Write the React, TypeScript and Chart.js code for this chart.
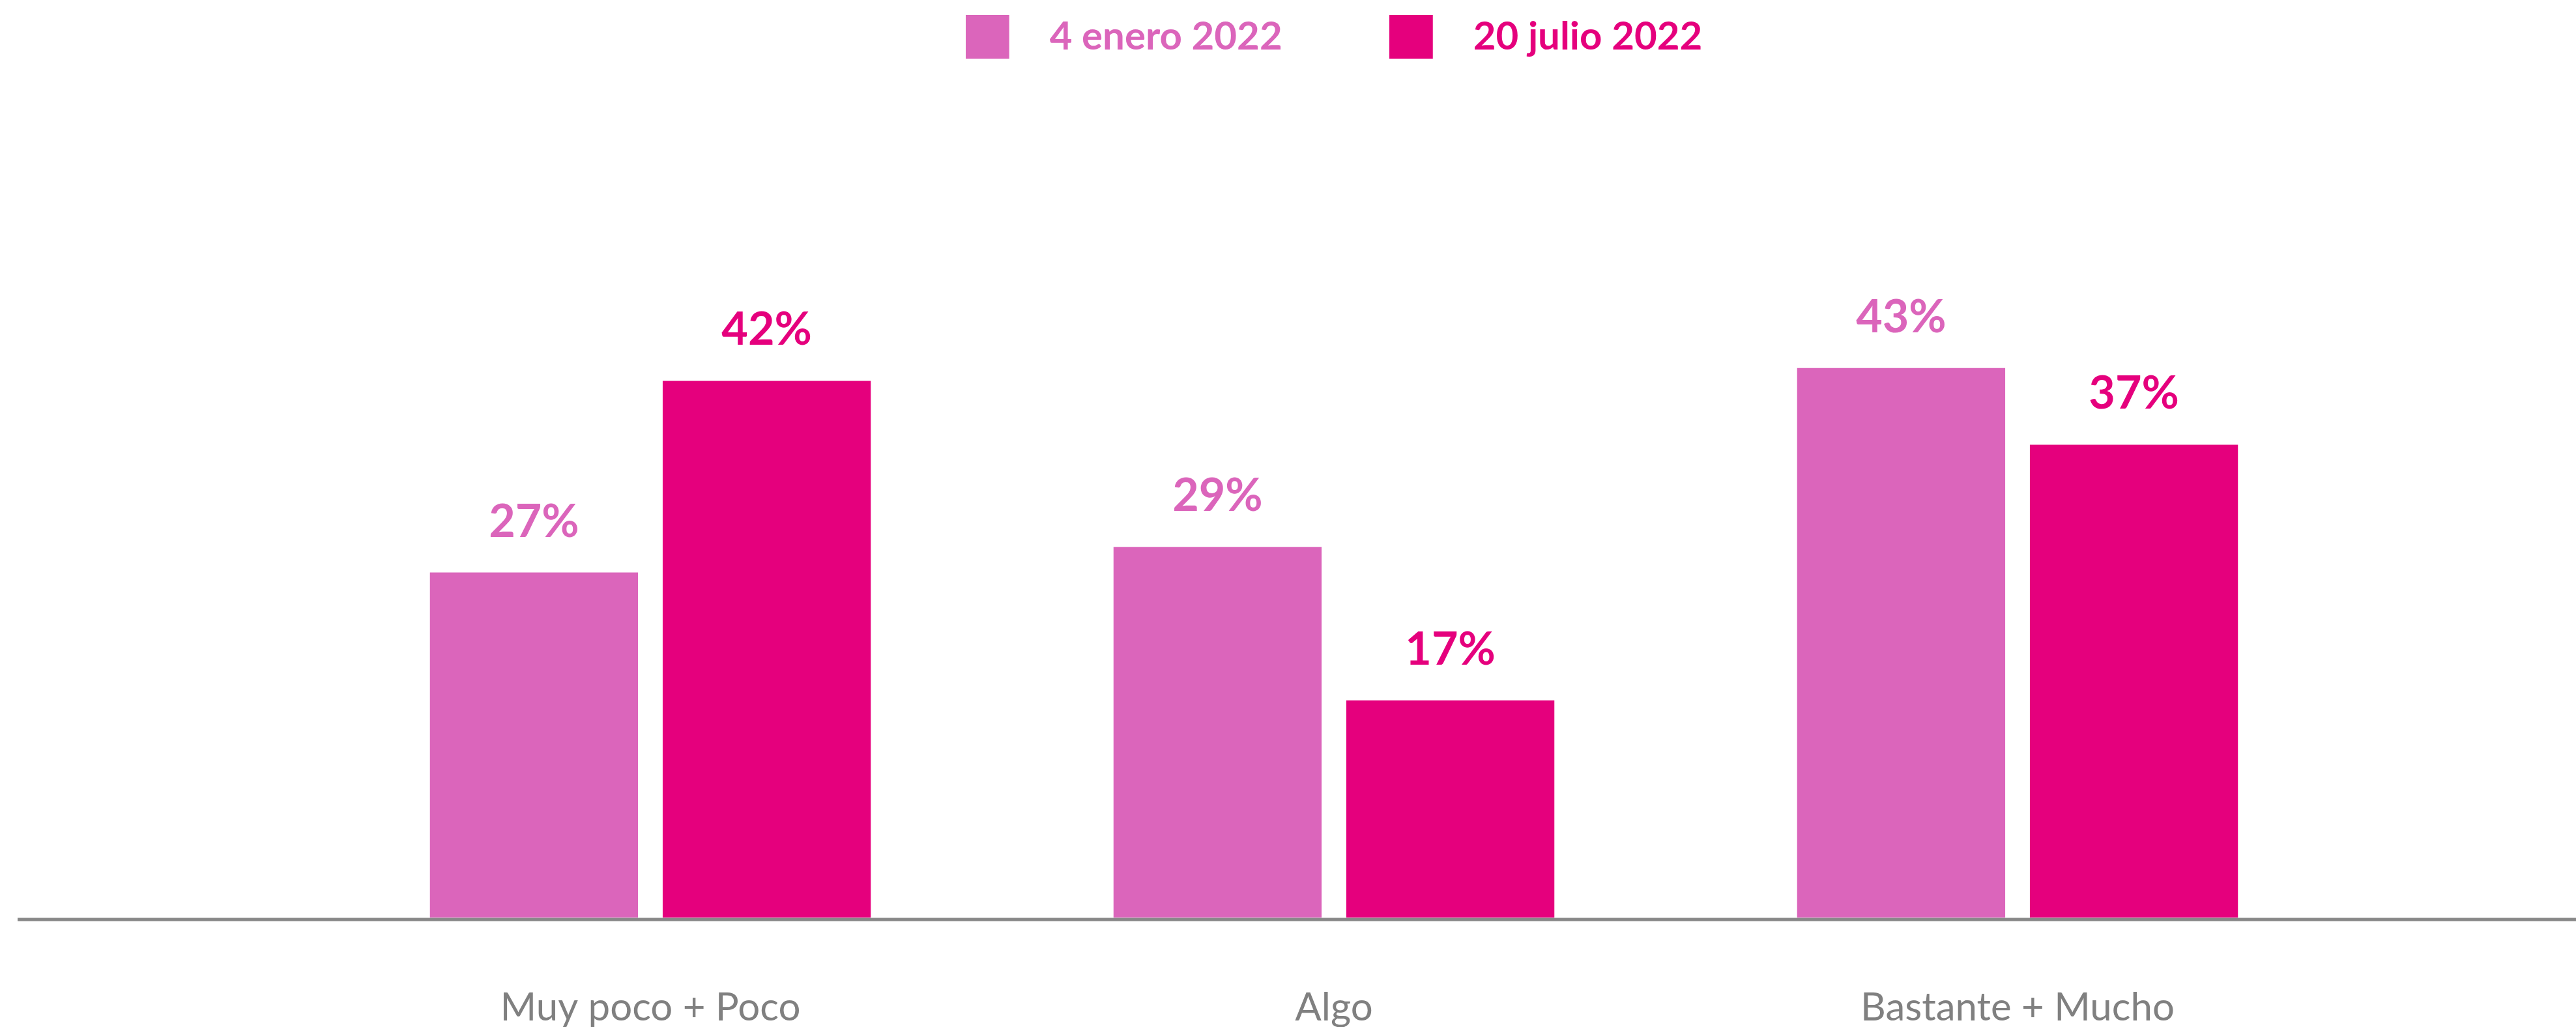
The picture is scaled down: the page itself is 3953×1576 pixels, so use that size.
import React, { useEffect, useRef } from "react";
import { Chart, registerables } from "chart.js";

Chart.register(...registerables);

const categories = ["Muy poco + Poco", "Algo", "Bastante + Mucho"];
const seriesNames = ["4 enero 2022", "20 julio 2022"];
const enero2022 = [27, 29, 43];
const julio2022 = [42, 17, 37];
const seriesColors = ["#DB65BB", "#E5007D"];

const W = 3953;
const H = 1576;

function legendSwatch(color: string) {
  // 67x67 square at the left of a 99px wide transparent canvas
  const c = document.createElement("canvas");
  c.width = 99;
  c.height = 67;
  const ctx = c.getContext("2d");
  if (ctx) {
    ctx.fillStyle = color;
    ctx.fillRect(0, 0, 67, 67);
  }
  return c;
}

export default function App() {
  const ref = useRef<HTMLCanvasElement | null>(null);

  useEffect(() => {
    document.body.style.margin = "0";
    let chart: Chart | null = null;
    let cancelled = false;

    const axisLine = {
      id: "axisLine",
      beforeDatasetsDraw(c: any) {
        const y0 = c.scales.y.getPixelForValue(0);
        const ctx = c.ctx;
        ctx.save();
        ctx.strokeStyle = "#888888";
        ctx.lineWidth = 5;
        ctx.beginPath();
        ctx.moveTo(27, y0 + 3);
        ctx.lineTo(c.width, y0 + 3);
        ctx.stroke();
        ctx.restore();
      },
    };

    const valueLabels = {
      id: "valueLabels",
      afterDatasetsDraw(c: any) {
        const ctx = c.ctx;
        ctx.save();
        ctx.font = "bold 70px Lato";
        ctx.textAlign = "center";
        ctx.textBaseline = "alphabetic";
        c.data.datasets.forEach((ds: any, i: number) => {
          const meta = c.getDatasetMeta(i);
          meta.data.forEach((el: any, j: number) => {
            ctx.fillStyle = ds.backgroundColor;
            ctx.fillText(`${ds.data[j]}%`, el.x, el.y - 55);
          });
        });
        ctx.restore();
      },
    };

    const make = () => {
      if (cancelled || !ref.current) return;
      Chart.defaults.font.family = "Lato";
      const swatches = seriesColors.map(legendSwatch);
      chart = new Chart(ref.current, {
        type: "bar",
        data: {
          labels: categories,
          datasets: [
            {
              label: seriesNames[0],
              data: enero2022,
              backgroundColor: seriesColors[0],
              borderWidth: 0,
            },
            {
              label: seriesNames[1],
              data: julio2022,
              backgroundColor: seriesColors[1],
              borderWidth: 0,
            },
          ],
        },
        options: {
          responsive: false,
          animation: false,
          devicePixelRatio: 1,
          layout: {
            padding: { left: 473.5, right: 332.5, top: -137.5, bottom: 0 },
          },
          datasets: {
            bar: { categoryPercentage: 0.681, barPercentage: 0.894 },
          },
          plugins: {
            tooltip: { enabled: false },
            legend: {
              display: true,
              position: "top",
              labels: {
                usePointStyle: true,
                pointStyleWidth: 99,
                boxHeight: 67,
                padding: 164,
                font: { family: "Lato", size: 60, weight: "bold" },
                generateLabels: (c: any) =>
                  c.data.datasets.map((ds: any, i: number) => ({
                    text: ds.label,
                    fillStyle: ds.backgroundColor,
                    strokeStyle: ds.backgroundColor,
                    fontColor: ds.backgroundColor,
                    pointStyle: swatches[i],
                    lineWidth: 0,
                    hidden: false,
                    datasetIndex: i,
                  })),
              },
            },
          },
          scales: {
            x: {
              grid: { display: false, drawTicks: false },
              border: { display: false },
              ticks: {
                color: "#808080",
                padding: 103,
                font: { family: "Lato", size: 60 },
              },
              afterFit: (s: any) => {
                s.height = 168;
              },
            },
            y: {
              display: false,
              min: 0,
              max: 66.88,
            },
          },
        },
        plugins: [axisLine, valueLabels],
      });
    };

    const fontsReady = (document as any).fonts
      ? Promise.all([
          (document as any).fonts.load("bold 70px Lato"),
          (document as any).fonts.load("60px Lato"),
        ]).catch(() => null)
      : Promise.resolve(null);
    fontsReady.then(make);

    return () => {
      cancelled = true;
      if (chart) chart.destroy();
    };
  }, []);

  return (
    <div style={{ width: W, height: H }}>
      <canvas ref={ref} width={W} height={H} style={{ display: "block" }} />
    </div>
  );
}
